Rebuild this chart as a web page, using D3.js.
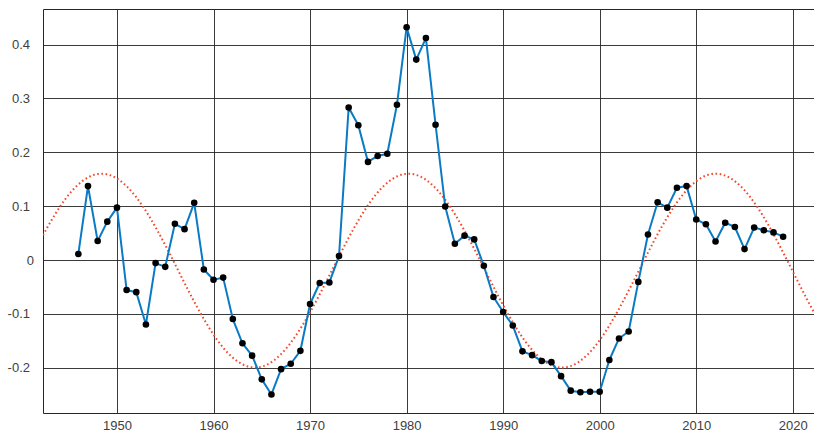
<!DOCTYPE html>
<html>
<head>
<meta charset="utf-8">
<script src="https://cdn.jsdelivr.net/npm/d3@7"></script>
<style>
  html, body { margin: 0; padding: 0; background: #fff; }
  svg { display: block; }
  .tick text { font-family: "Liberation Sans", Arial, sans-serif; font-size: 13px; fill: #404040; }
</style>
</head>
<body>
<svg id="chart" width="814" height="433"></svg>
<script>
// Annual anomaly series
const years = [
  1946, 1947, 1948, 1949, 1950, 1951, 1952, 1953, 1954, 1955,
  1956, 1957, 1958, 1959, 1960, 1961, 1962, 1963, 1964, 1965,
  1966, 1967, 1968, 1969, 1970, 1971, 1972, 1973, 1974, 1975,
  1976, 1977, 1978, 1979, 1980, 1981, 1982, 1983, 1984, 1985,
  1986, 1987, 1988, 1989, 1990, 1991, 1992, 1993, 1994, 1995,
  1996, 1997, 1998, 1999, 2000, 2001, 2002, 2003, 2004, 2005,
  2006, 2007, 2008, 2009, 2010, 2011, 2012, 2013, 2014, 2015,
  2016, 2017, 2018, 2019
];
const values = [
  0.011, 0.137, 0.035, 0.071, 0.097, -0.056, -0.060, -0.120, -0.006, -0.013,
  0.067, 0.057, 0.106, -0.018, -0.037, -0.033, -0.110, -0.155, -0.178, -0.222,
  -0.250, -0.203, -0.193, -0.169, -0.082, -0.043, -0.042, 0.007, 0.283, 0.250,
  0.182, 0.193, 0.197, 0.288, 0.432, 0.372, 0.412, 0.251, 0.099, 0.030,
  0.045, 0.038, -0.011, -0.069, -0.097, -0.122, -0.170, -0.177, -0.188, -0.190,
  -0.216, -0.243, -0.246, -0.245, -0.245, -0.186, -0.146, -0.133, -0.041, 0.047,
  0.107, 0.097, 0.134, 0.137, 0.075, 0.066, 0.034, 0.069, 0.061, 0.020,
  0.060, 0.055, 0.051, 0.043
];

// Fitted sinusoid: crest/trough levels and timing of the cycle
const fitCrest = 0.16;
const fitTrough = -0.20;
const fitPeriod = 31.8;
const fitPeakYear = 1948.4;

// Axis ticks
const xTicks = [1950, 1960, 1970, 1980, 1990, 2000, 2010, 2020];
const yTicks = [-0.2, -0.1, 0, 0.1, 0.2, 0.3, 0.4];
const xDomain = [1942.34, 2022.3];
const yDomain = [-0.2845, 0.466];

const width = 814, height = 433;
const margin = { top: 9, right: -1, bottom: 20, left: 43 };

const svg = d3.select("#chart");

const x = d3.scaleLinear().domain(xDomain).range([margin.left, width - margin.right]);
const y = d3.scaleLinear().domain(yDomain).range([height - margin.bottom, margin.top]);

const x0 = margin.left, x1 = width - margin.right;
const y0 = margin.top, y1 = height - margin.bottom;

const gridColor = "#262626";

// Grid lines
const grid = svg.append("g").attr("stroke", gridColor).attr("stroke-width", 1).attr("stroke-opacity", 0.9);
grid.selectAll("line.v").data(xTicks).join("line")
  .attr("class", "v")
  .attr("x1", d => Math.round(x(d)) + 0.5).attr("x2", d => Math.round(x(d)) + 0.5)
  .attr("y1", y0).attr("y2", y1);
grid.selectAll("line.h").data(yTicks).join("line")
  .attr("class", "h")
  .attr("x1", x0).attr("x2", x1)
  .attr("y1", d => Math.round(y(d)) + 0.5).attr("y2", d => Math.round(y(d)) + 0.5);

// Plot frame (left, top, bottom)
svg.append("path")
  .attr("fill", "none")
  .attr("stroke", gridColor)
  .attr("stroke-width", 1)
  .attr("d", `M${x1},${Math.round(y0) + 0.5}H${Math.round(x0) + 0.5}V${Math.round(y1) + 0.5}H${x1}`);

// Axes (labels only; frame drawn above)
const xAxis = d3.axisBottom(x).tickValues(xTicks).tickFormat(d3.format("d")).tickSize(0).tickPadding(8);
svg.append("g")
  .attr("transform", `translate(0,${y1})`)
  .call(xAxis)
  .call(g => g.select(".domain").remove());

// Plain hyphen for negative labels
const yFmt = d => d === 0 ? "0" : d.toFixed(1);
const yAxis = d3.axisLeft(y).tickValues(yTicks)
  .tickFormat(yFmt)
  .tickSize(0).tickPadding(13);
svg.append("g")
  .attr("transform", `translate(${x0},0)`)
  .call(yAxis)
  .call(g => g.select(".domain").remove())
  .call(g => g.selectAll(".tick text").filter(d => d === 0).attr("dx", 4));

// Fitted cycle, dotted red
const fitMean = (fitCrest + fitTrough) / 2;
const fitAmp = (fitCrest - fitTrough) / 2;
const fitYears = d3.range(xDomain[0], xDomain[1] + 0.1, 0.1);
const fitLine = d3.line()
  .x(t => x(t))
  .y(t => y(fitMean + fitAmp * Math.cos(2 * Math.PI * (t - fitPeakYear) / fitPeriod)));

svg.append("clipPath").attr("id", "plot-clip")
  .append("rect").attr("x", x0).attr("y", y0).attr("width", x1 - x0).attr("height", y1 - y0);

svg.append("path")
  .datum(fitYears)
  .attr("clip-path", "url(#plot-clip)")
  .attr("fill", "none")
  .attr("stroke", "#f5472b")
  .attr("stroke-width", 2)
  .attr("stroke-dasharray", "1.6,2.6")
  .attr("d", fitLine);

// Observed series
const series = years.map((yr, i) => ({ year: yr, value: values[i] }));
const line = d3.line().x(d => x(d.year)).y(d => y(d.value));

svg.append("path")
  .datum(series)
  .attr("fill", "none")
  .attr("stroke", "#0a7ac4")
  .attr("stroke-width", 2)
  .attr("stroke-linejoin", "round")
  .attr("d", line);

svg.append("g")
  .selectAll("circle")
  .data(series)
  .join("circle")
  .attr("cx", d => x(d.year))
  .attr("cy", d => y(d.value))
  .attr("r", 3.3)
  .attr("fill", "#000");
</script>
</body>
</html>
